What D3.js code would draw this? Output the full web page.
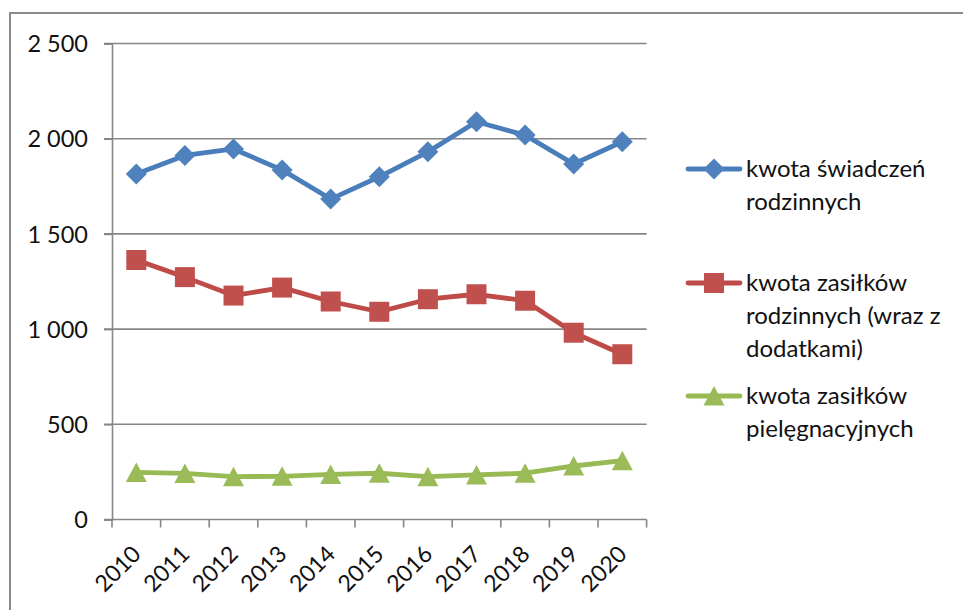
<!DOCTYPE html>
<html>
<head>
<meta charset="utf-8">
<script src="https://cdn.jsdelivr.net/npm/d3@7"></script>
<style>
  html, body { margin: 0; padding: 0; background: #fff; }
  svg { display: block; font-family: Lato, "Open Sans", sans-serif; }
</style>
</head>
<body>
<svg id="chart" width="963" height="610"></svg>
<script>
const years = ["2010","2011","2012","2013","2014","2015","2016","2017","2018","2019","2020"];
const seriesNames = [
  ["kwota świadczeń", "rodzinnych"],
  ["kwota zasiłków", "rodzinnych (wraz z", "dodatkami)"],
  ["kwota zasiłków", "pielęgnacyjnych"]
];
const swiadczenia = [1815, 1912, 1946, 1836, 1683, 1800, 1931, 2089, 2019, 1867, 1984];
const zasilkiRodzinne = [1363, 1273, 1176, 1218, 1145, 1091, 1157, 1183, 1149, 981, 868];
const zasilkiPiel = [247, 242, 225, 227, 237, 243, 225, 234, 243, 281, 309];
const yTicks = [0, 500, 1000, 1500, 2000, 2500];

(function () {
const svg = d3.select("#chart");
const fontFam = "Lato, 'Open Sans', sans-serif";
const textColor = "#111";

// outer frame
svg.append("rect").attr("x", 10).attr("y", 13).attr("width", 990).attr("height", 640)
  .attr("fill", "none").attr("stroke", "#8a8a8a").attr("stroke-width", 2);

const pLeft = 112, pRight = 646.6, pTop = 43.5, pBottom = 519.5;
const x = d3.scaleBand().domain(years).range([pLeft, pRight]);
const y = d3.scaleLinear().domain([0, 2500]).range([pBottom, pTop]);
const gridColor = "#868686";

// gridlines
svg.append("g").selectAll("line").data(yTicks.filter(d => d > 0)).join("line")
  .attr("x1", pLeft - 8).attr("x2", pRight)
  .attr("y1", d => y(d)).attr("y2", d => y(d))
  .attr("stroke", gridColor).attr("stroke-width", 1.6);

// y axis
const yAxis = svg.append("g").attr("transform", `translate(${pLeft},0)`)
  .call(d3.axisLeft(y).tickValues(yTicks).tickSize(8).tickPadding(16)
    .tickFormat(d => d3.format(",")(d).replace(",", " ")));
yAxis.select(".domain").attr("stroke", gridColor).attr("stroke-width", 1.6);
yAxis.selectAll(".tick line").attr("stroke", gridColor).attr("stroke-width", 1.6);
yAxis.selectAll(".tick text").attr("font-size", 23.5).attr("fill", textColor)
  .attr("font-family", fontFam).attr("dy", "0.35em");

// x axis
const xAxisG = svg.append("g").attr("transform", `translate(0,${pBottom})`);
xAxisG.append("line").attr("x1", pLeft - 8).attr("x2", pRight)
  .attr("stroke", gridColor).attr("stroke-width", 1.6);
const boundaries = years.map(d => x(d)).concat([pRight]);
xAxisG.selectAll("line.tk").data(boundaries).join("line").attr("class", "tk")
  .attr("x1", d => d).attr("x2", d => d).attr("y1", 0).attr("y2", 8)
  .attr("stroke", gridColor).attr("stroke-width", 1.6);
xAxisG.selectAll("text").data(years).join("text")
  .attr("transform", d => `translate(${x(d) + x.bandwidth() / 2 + 6},36) rotate(-45)`)
  .attr("text-anchor", "end").attr("font-size", 23).attr("fill", textColor)
  .text(d => d);

const cx = (d, i) => x(years[i]) + x.bandwidth() / 2;
const series = [
  { values: swiadczenia, line: "#4A7EBB", fill: "#4F81BD", shape: "diamond" },
  { values: zasilkiRodzinne, line: "#BE4B48", fill: "#C0504D", shape: "square" },
  { values: zasilkiPiel, line: "#98B954", fill: "#9BBB59", shape: "triangle" }
];

function markerPath(shape) {
  if (shape === "diamond") return "M0,-10.5L10.5,0L0,10.5L-10.5,0Z";
  if (shape === "square") return "M-10,-10H10V10H-10Z";
  return "M0,-10L10.5,9.5L-10.5,9.5Z";
}

const line = d3.line().x(cx).y(d => y(d));
series.forEach(s => {
  svg.append("path").datum(s.values).attr("d", line)
    .attr("fill", "none").attr("stroke", s.line).attr("stroke-width", 4.8)
    .attr("stroke-linejoin", "round");
  svg.append("g").selectAll("path").data(s.values).join("path")
    .attr("transform", (d, i) => `translate(${cx(d, i)},${y(d)})`)
    .attr("d", markerPath(s.shape)).attr("fill", s.fill);
});

// legend
const legendY = [169, 283, 396];
series.forEach((s, k) => {
  const g = svg.append("g").attr("transform", `translate(0,${legendY[k]})`);
  g.append("line").attr("x1", 688).attr("x2", 740).attr("y1", 0).attr("y2", 0)
    .attr("stroke", s.line).attr("stroke-width", 4.8).attr("stroke-linecap", "round");
  g.append("path").attr("transform", "translate(714,0)").attr("d", markerPath(s.shape)).attr("fill", s.fill);
  seriesNames[k].forEach((t, j) => {
    g.append("text").attr("x", 746).attr("y", j * 33).attr("dy", "0.35em")
      .attr("font-size", 24).attr("fill", textColor).text(t);
  });
});
})();
</script>
</body>
</html>
